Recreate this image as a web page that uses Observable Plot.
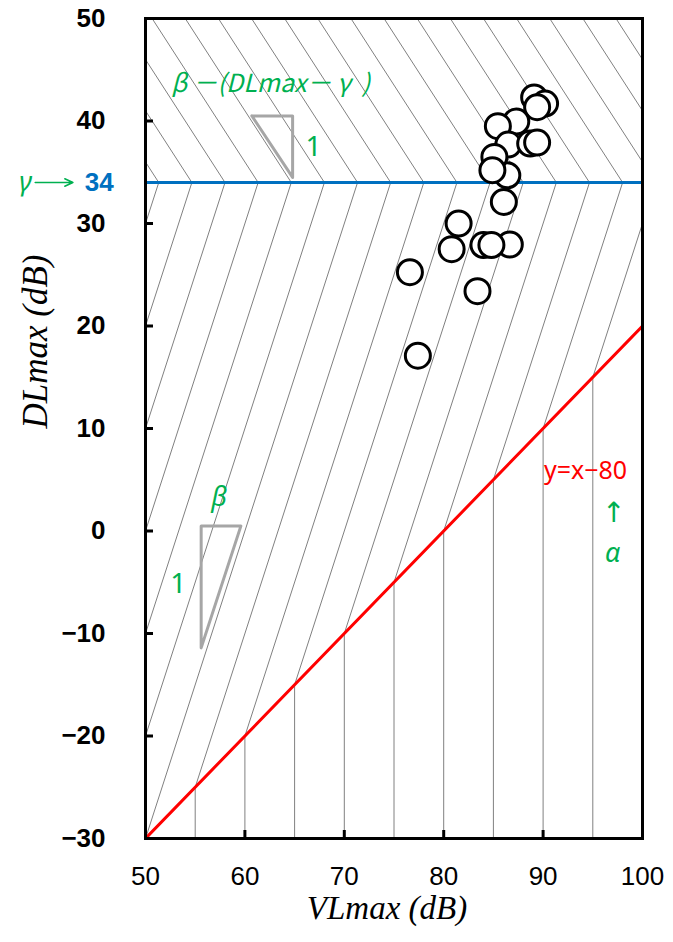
<!DOCTYPE html>
<html><head><meta charset="utf-8">
<script src="https://cdn.jsdelivr.net/npm/d3@7"></script>
<script src="https://cdn.jsdelivr.net/npm/@observablehq/plot@0.6"></script>
<style>body{margin:0;background:#fff}</style>
</head><body><div id="chart"></div>
<script>
// ---- data ----
const vlmax = [89.1, 90.2, 89.4, 87.3, 85.45, 86.5, 88.7, 89.4, 86.4, 85.1, 84.9, 86.05, 81.5, 80.8, 84.0, 86.65, 84.8, 76.6, 83.4, 77.4];
const dlmax = [42.3, 41.7, 41.35, 39.95, 39.5, 37.7, 37.8, 37.9, 34.7, 36.5, 35.2, 32.1, 30.0, 27.5, 27.9, 27.95, 27.9, 25.25, 23.4, 17.1];
const xTicks = [50, 60, 70, 80, 90, 100];
const yTicks = [-30, -20, -10, 0, 10, 20, 30, 40, 50];
const gamma = 34;          // γ
const alphaOffset = 80;    // y = x − 80
const betaLow = 1 / 3;     // dx per dy below γ
const betaHigh = 2 / 3;    // dx per dy above γ
const hatchStarts = [15, 20, 25, 30, 35, 40, 45, 50, 55, 60, 65, 70, 75, 80, 85, 90, 95, 100, 105, 110, 115, 120];
const verticalHatch = [55, 60, 65, 70, 75, 80, 85, 90, 95];
const triUpperX = [60.7, 64.8, 64.8, 60.7];
const triUpperY = [40.5, 40.5, 34.5, 40.5];
const triLowerX = [55.6, 59.6, 55.6, 55.6];
const triLowerY = [0.5, 0.5, -11.4, 0.5];
const formulaNote = "β －(DLmax－ γ  )"; const formulaX = 62.6; const formulaY = 43.6;
const italicNotes = ["β", "α"];
const italicX = [57.4, 97.0];
const italicY = [3.3, -2.2];
const uprightNotes = ["1", "1", "↑"];
const uprightX = [66.9, 53.3, 97.1];
const uprightY = [37.5, -5.2, 1.8];
const redNote = "y=x−80"; const redNoteX = 94.27; const redNoteY = 5.9;
const gammaArrowX = [38.9, 42.7];

// ---- derived tables ----
const pts = vlmax.map((x, i) => ({x, y: dlmax[i]}));
const hatch = [];
for (const xr of hatchStarts) {
  const yr = xr - alphaOffset;
  const xc = xr + betaLow * (gamma - yr);
  hatch.push({x1: xr, y1: yr, x2: xc, y2: gamma});
  hatch.push({x1: xc, y1: gamma, x2: xc - betaHigh * 40, y2: gamma + 40});
}
for (const xv of verticalHatch) hatch.push({x1: xv, y1: -30, x2: xv, y2: xv - alphaOffset});
const triU = triUpperX.map((x, i) => ({x, y: triUpperY[i]}));
const triL = triLowerX.map((x, i) => ({x, y: triLowerY[i]}));
const itNotes = italicNotes.map((t, i) => ({t, x: italicX[i], y: italicY[i]}));
const upNotes = uprightNotes.map((t, i) => ({t, x: uprightX[i], y: uprightY[i]}));
const redLine = [50, 100].map(x => ({x, y: x - alphaOffset}));

const green = "#00b050", blue = "#0070c0", red = "#ff0000";
const noteFont = "Noto Sans, DejaVu Sans, sans-serif";
const chart = Plot.plot({
  width: 673, height: 942,
  marginLeft: 145, marginRight: 31, marginTop: 18, marginBottom: 104,
  style: {fontFamily: "Liberation Sans, Arial, sans-serif", fontSize: "26px", background: "#fff", color: "#000"},
  x: {domain: [50, 100], label: null},
  y: {domain: [-30, 50], label: null},
  marks: [
    Plot.link(hatch, {x1: "x1", y1: "y1", x2: "x2", y2: "y2", stroke: "#808080", strokeWidth: 1, clip: true}),
    Plot.line(triU, {x: "x", y: "y", stroke: "#a6a6a6", strokeWidth: 3}),
    Plot.line(triL, {x: "x", y: "y", stroke: "#a6a6a6", strokeWidth: 3}),
    Plot.line(redLine, {x: "x", y: "y", stroke: red, strokeWidth: 3, clip: true}),
    Plot.ruleY([gamma], {stroke: blue, strokeWidth: 3}),
    Plot.dot(pts, {x: "x", y: "y", r: 12.5, stroke: "#000", strokeWidth: 3, fill: "#fff"}),
    Plot.text([formulaNote], {x: formulaX, y: formulaY, text: d => d, fill: green, fontSize: 25, fontFamily: "Noto Sans CJK JP, sans-serif", fontStyle: "italic"}),
    Plot.text(itNotes, {x: "x", y: "y", text: "t", fill: green, fontSize: 27, fontFamily: noteFont, fontStyle: "italic"}),
    Plot.text(upNotes, {x: "x", y: "y", text: "t", fill: green, fontSize: 28, fontFamily: noteFont}),
    Plot.text([redNote], {x: redNoteX, y: redNoteY, text: d => d, fill: red, fontSize: 25, fontFamily: noteFont}),
    Plot.text(["γ"], {x: 37.95, y: gamma, text: d => d, fill: green, fontSize: 27, fontFamily: noteFont, fontStyle: "italic"}),
    Plot.arrow([gamma], {x1: gammaArrowX[0], x2: gammaArrowX[1], y1: d => d, y2: d => d, stroke: green, strokeWidth: 1.5, headLength: 9, headAngle: 50}),
    Plot.text([String(gamma)], {x: 46.8, y: gamma, text: d => d, fill: blue, fontSize: 26, fontWeight: "bold", textAnchor: "end"}),
    Plot.axisX({ticks: xTicks, tickSize: 0, tickPadding: 28, tickFormat: d => String(d)}),
    Plot.axisY({ticks: yTicks, tickSize: 0, tickPadding: 40, fontWeight: "bold", tickFormat: d => d < 0 ? "−" + Math.abs(d) : String(d)}),
    Plot.ruleY(yTicks, {x1: 50, x2: 50, insetRight: -8, stroke: "#000", strokeWidth: 3}),
    Plot.ruleX(xTicks, {y1: -30, y2: -30, insetTop: -8, stroke: "#000", strokeWidth: 3}),
    Plot.text(["VLmax (dB)"], {frameAnchor: "bottom", dy: 80, dx: -7, text: d => d, fontSize: 33, fontFamily: "Liberation Serif, serif", fontStyle: "italic"}),
    Plot.text(["DLmax (dB)"], {frameAnchor: "left", dx: -110, rotate: -90, text: d => d, fontSize: 35, fontFamily: "Liberation Serif, serif", fontStyle: "italic"}),
    Plot.frame({stroke: "#000", strokeWidth: 3})
  ]
});
document.getElementById("chart").append(chart);
</script>
</body></html>
